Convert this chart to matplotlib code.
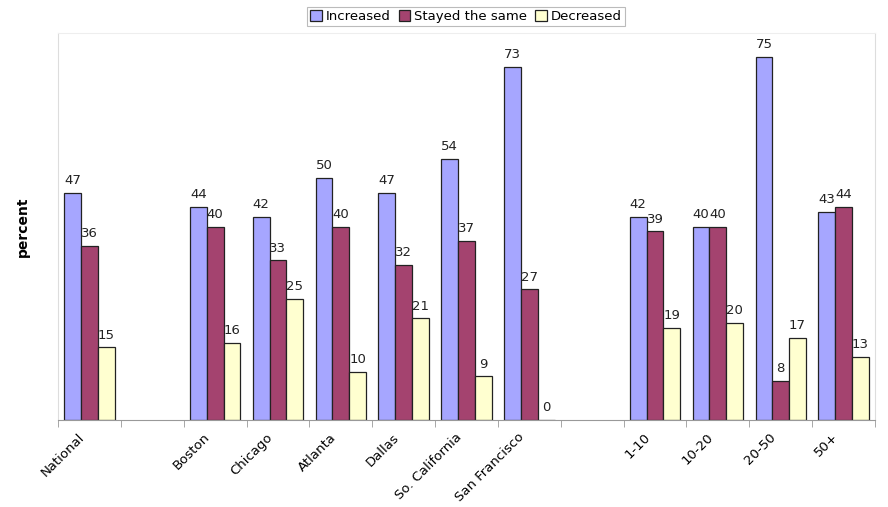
import numpy as np
import matplotlib.pyplot as plt
import matplotlib.transforms as mtransforms

categories = ["National", "", "Boston", "Chicago", "Atlanta", "Dallas",
              "So. California", "San Francisco", "", "1-10", "10-20", "20-50", "50+"]
increased = [47, None, 44, 42, 50, 47, 54, 73, None, 42, 40, 75, 43]
stayed = [36, None, 40, 33, 40, 32, 37, 27, None, 39, 40, 8, 44]
decreased = [15, None, 16, 25, 10, 21, 9, 0, None, 19, 20, 17, 13]

series = [("Increased", increased, "#A6A6FF"),
          ("Stayed the same", stayed, "#A4436F"),
          ("Decreased", decreased, "#FFFFD0")]

fig = plt.figure(figsize=(8.88, 5.07), dpi=100)
ax = fig.add_axes([58 / 888, 1 - 420 / 507, 817 / 888, 387 / 507])

x = np.arange(len(categories))
w = 0.267
for i, (name, vals, col) in enumerate(series):
    pos = [xi + (i - 1) * w for xi, v in zip(x, vals) if v is not None]
    hv = [v for v in vals if v is not None]
    bars = ax.bar(pos, hv, w, color=col, edgecolor="#222222", linewidth=0.9, label=name)
    for p, v in zip(pos, hv):
        ax.text(p, v + 1.2, str(v), ha="center", va="bottom", fontsize=9.5, color="#222222")

ax.set_xlim(-0.5, len(categories) - 0.5)
ax.set_ylim(0, 80)
ax.set_yticks([])
ax.set_xticks(x)
ax.set_xticklabels(categories, rotation=45, ha="right", va="center",
                   rotation_mode="anchor", fontsize=9.5)
ax.tick_params(axis="x", which="major", length=0, pad=11)
shift = mtransforms.ScaledTranslation(-7 / 100, 0, fig.dpi_scale_trans)
for lab in ax.get_xticklabels():
    lab.set_transform(lab.get_transform() + shift)
ax.set_xticks(np.arange(-0.5, len(categories), 1), minor=True)
ax.tick_params(axis="x", which="minor", length=5, color="#999999")

for s in ["left", "right", "top"]:
    ax.spines[s].set_color("#dddddd")
ax.spines["top"].set_color("#eeeeee")
ax.spines["bottom"].set_color("#999999")

ax.set_ylabel("percent", fontsize=10, fontweight="bold", labelpad=20)

leg = fig.legend(loc="upper center", bbox_to_anchor=(466 / 888, 1.0), ncol=3, fontsize=9.5,
                 frameon=True, fancybox=False, edgecolor="#aaaaaa", handlelength=0.9,
                 handleheight=0.9, handletextpad=0.3, columnspacing=0.6, borderpad=0.25)
leg.get_frame().set_linewidth(0.8)

fig.savefig("out.png", dpi=100)
